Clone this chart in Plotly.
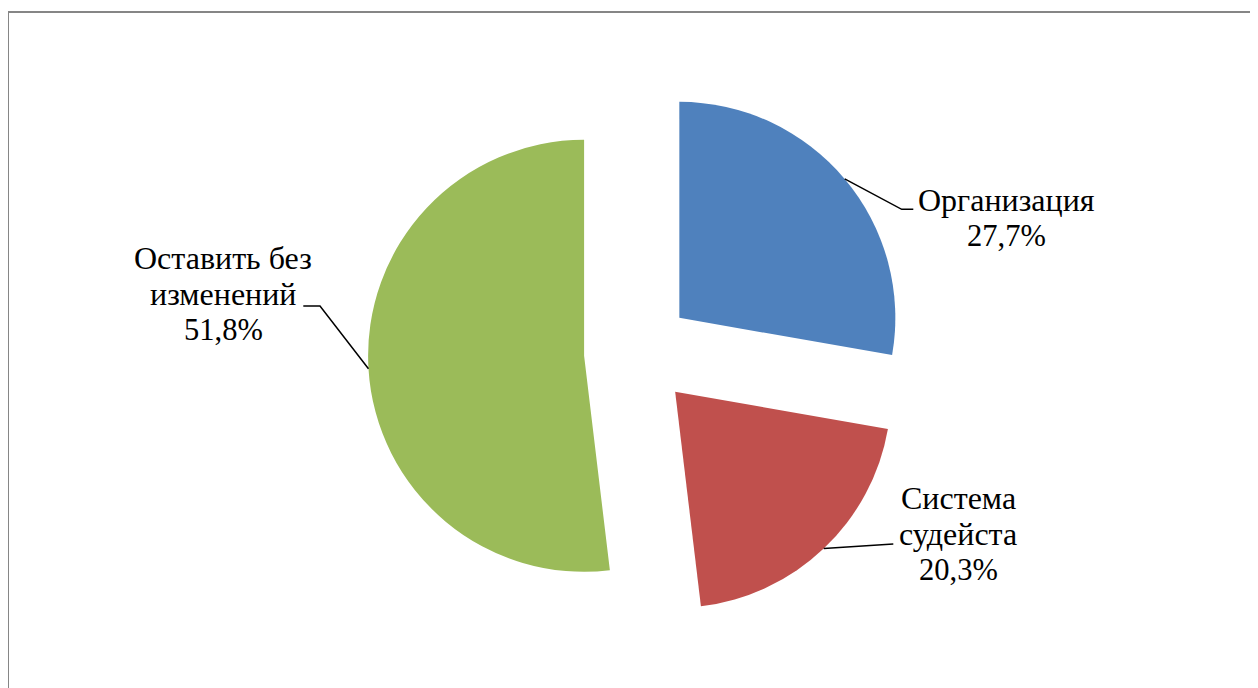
import math
import plotly.graph_objects as go

# ---- data ----
categories = ["Организация", "Система судейста", "Оставить без изменений"]
label_lines = [["Организация"], ["Система", "судейста"], ["Оставить без", "изменений"]]
values = [27.7, 20.3, 51.8]
colors = ["#4F81BD", "#C0504D", "#9BBB59"]

# ---- layout constants ----
W, H = 1258, 688
OFF = 8.0                  # page body margin offset
CX, CY = 638.0 - OFF, 352.6 - OFF
R = 216.0
PULL = 0.25
BOX = 2 * R * (1 + PULL)
FONT = "Liberation Serif"
FS_WORD = 32
FS_NUM = 30.5
LINE_H = 36.3

dom_y0 = 1 - (CY + BOX / 2) / H
dom_y1 = dom_y0 + BOX / H
dom_x0 = (CX - 320) / W
dom_x1 = (CX + 320) / W

# label placement in screen px: (text centre x, first baseline y, elbow point, line end point)
label_pos = [
    (1006, 210.0, (901.7, 209.3), (913.3, 209.3)),
    (958, 507.7, None, (893.3, 544.0)),
    (223, 267.7, (320.0, 306.0), (303.3, 306.0)),
]

def px(x):
    return x / W

def py(y):
    return 1 - y / H

def sx(x):
    return px(x - OFF)

def sy(y):
    return py(y - OFF)

fig = go.Figure(go.Pie(
    labels=categories,
    values=values,
    marker=dict(colors=colors, line=dict(width=0)),
    pull=[PULL] * len(values),
    sort=False,
    direction="clockwise",
    rotation=0,
    textinfo="none",
    hoverinfo="label+percent",
    showlegend=False,
    domain=dict(x=[dom_x0, dom_x1], y=[dom_y0, dom_y1]),
))

shapes = []
annotations = []
total = sum(values)
cum = 0.0
for i, v in enumerate(values):
    mid = (cum + v / 2) / total * 2 * math.pi
    cum += v
    dx, dy = math.sin(mid), -math.cos(mid)
    ax = CX + (1 + PULL) * R * dx
    ay = CY + (1 + PULL) * R * dy
    tx, by, elbow, end = label_pos[i]
    pts = [(px(ax), py(ay))]
    if elbow:
        pts.append((sx(elbow[0]), sy(elbow[1])))
    pts.append((sx(end[0]), sy(end[1])))
    path = "M " + " L ".join(f"{x},{y}" for x, y in pts)
    shapes.append(dict(type="path", xref="paper", yref="paper", path=path,
                       line=dict(color="black", width=1.5)))
    lines = label_lines[i] + [f"{v:.1f}".replace(".", ",") + "%"]
    for k, t in enumerate(lines):
        yb = by + k * LINE_H
        fs = FS_NUM if t.endswith("%") else FS_WORD
        annotations.append(dict(
            text=t, x=sx(tx), y=sy(yb - 10), xref="paper", yref="paper",
            xanchor="center", yanchor="middle", showarrow=False,
            font=dict(family=FONT, size=fs, color="black"),
        ))

# chart frame (extends beyond right and bottom edges)
shapes.append(dict(type="path", xref="paper", yref="paper",
                   path=f"M {sx(8)},{sy(720)} L {sx(8)},{sy(12)} L {sx(1300)},{sy(12)}",
                   line=dict(color="#868686", width=2)))

fig.update_layout(
    width=W, height=H,
    margin=dict(l=0, r=0, t=0, b=0),
    paper_bgcolor="white", plot_bgcolor="white",
    font=dict(family=FONT),
    shapes=shapes, annotations=annotations,
)
fig.write_html("out.html")
